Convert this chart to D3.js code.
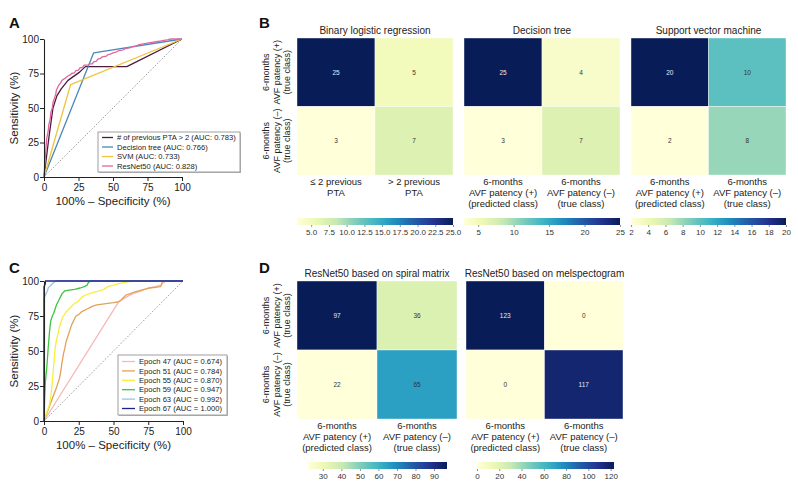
<!DOCTYPE html>
<html><head><meta charset="utf-8">
<script src="https://cdn.jsdelivr.net/npm/d3@7"></script>
<style>body{margin:0;background:#fff}svg{display:block;font-family:"Liberation Sans",Arial,sans-serif}</style>
</head><body><svg id="c" width="798" height="483"></svg>
<script>
// ---------------- DATA ----------------
const rocTicks = [0, 25, 50, 75, 100];
// Panel A ROC curves [100% - specificity, sensitivity]
const rocPrevPTA = [[0,0],[3.6,29],[6.5,50],[9.4,59],[12.6,64],[17.4,70],[25.8,76],[30,80],[60,80],[100,100]];
const rocDecisionTree = [[0,0],[36,90],[100,100]];
const rocSVM = [[0,0],[19.3,67],[100,100]];
const rocResNet50 = [[0,0],[0.5,8],[1,15],[1.5,22],[2,28],[3,33],[3.5,38],[4.5,42],[5,47],[6,50],[6.5,54],[7.5,57],[8.5,60],[9,63],[10,65],[11,67],[12,68],[13,70],[14.5,71],[16,72],[17,73],[19,74],[20,75],[22,75.5],[23,77],[25,77.5],[26,79],[28,79.5],[29,81],[32,81],[33,82],[35,82],[36,83.5],[38,84],[39,85.5],[41,86],[42,87],[45,87.5],[46,88.5],[48,89],[50,90],[52,90.5],[54,91.5],[57,92],[59,93],[62,93.5],[64,94.5],[67,95],[69,96],[72,96.5],[75,97],[78,97.5],[81,98],[84,98.5],[87,99],[90,99.5],[92,100],[100,100]];
const legendA = ["# of previous PTA > 2 (AUC: 0.783)","Decision tree (AUC: 0.766)","SVM (AUC: 0.733)","ResNet50 (AUC: 0.828)"];
const colorsA = ["#4b1b3f","#4a88b9","#f1c33e","#e2679f"];

// Panel C ROC curves per epoch
const rocEp47 = [[0,0],[53,84],[55,86],[60,89],[64,91],[70,93],[75,95],[80,96],[84,97],[86,99],[88,100],[100,100]];
const rocEp51 = [[0,0],[3,8],[6,16],[9,24],[11,30],[12,35],[13,42],[14,48],[15,52],[16,57],[17,60],[18,63],[19,66],[20,69],[21,71],[22,73],[23,75],[25,76],[27,78],[29,79],[31,80],[33,81],[35,82],[38,83],[42,83.5],[46,84],[50,84.5],[53,85],[55,86],[57,88],[59,90],[62,91],[65,92],[68,93],[72,94],[76,95],[80,95.5],[84,96],[85,99],[86,100],[100,100]];
const rocEp55 = [[0,0],[2,6],[4,12],[5,18],[6,28],[7,40],[8,52],[9,58],[10,62],[11,67],[12,70],[13,73],[14,75],[16,78],[18,80],[20,82],[22,84],[24,85],[26,87],[28,89],[30,90],[33,91],[36,92],[40,93],[43,94],[46,96],[50,97],[53,98],[58,99],[64,100],[100,100]];
const rocEp59 = [[0,0],[0.3,12],[0.6,20],[1,28],[1.5,33],[2,38],[2.5,45],[3,52],[3.5,58],[4,64],[4.5,69],[5,72],[6,75],[7,77],[8,80],[9,83],[10,85],[11,87],[12,89],[13,91],[14,92],[15,93],[18,93.5],[22,94],[26,95],[29,96],[31,97],[32,99],[34,100],[100,100]];
const rocEp63 = [[0,0],[0,87],[0.5,89],[1.5,91],[2.5,93],[3,95],[4,96],[5,97],[6,98],[7,99],[9,100],[100,100]];
const rocEp67 = [[0,0],[0,96],[1,98],[1,100],[100,100]];
const legendC = ["Epoch 47 (AUC = 0.674)","Epoch 51 (AUC = 0.784)","Epoch 55 (AUC = 0.870)","Epoch 59 (AUC = 0.947)","Epoch 63 (AUC = 0.992)","Epoch 67 (AUC = 1.000)"];
const colorsC = ["#f3b9b9","#e2a257","#f6ef3c","#3ec43e","#9ec1e6","#20208a"];

// Confusion matrices
const rowLabels = [["6-months","AVF patency (+)","(true class)"],["6-months","AVF patency (–)","(true class)"]];
const colLabelsPTA = [["≤ 2 previous","PTA"],["> 2 previous","PTA"]];
const colLabelsAVF = [["6-months","AVF patency (+)","(predicted class)"],["6-months","AVF patency (–)","(true class)"]];
const titlesB = ["Binary logistic regression","Decision tree","Support vector machine"];
const matLogistic = [[25,5],[3,7]];
const matTree = [[25,4],[3,7]];
const matSVM = [[20,10],[2,8]];
const ticksLogistic = [5,7.5,10,12.5,15,17.5,20,22.5,25];
const ticksTree = [5,10,15,20,25];
const ticksSVM = [2,4,6,8,10,12,14,16,18,20];
const titlesD = ["ResNet50 based on spiral matrix","ResNet50 based on melspectogram"];
const matSpiral = [[97,36],[22,65]];
const matMel = [[123,0],[0,117]];
const ticksSpiral = [30,40,50,60,70,80,90];
const ticksMel = [0,20,40,60,80,100,120];

// colormap stops (YlGnBu)
const ylgnbu = ["#ffffd9","#edf8b1","#c7e9b4","#7fcdbb","#41b6c4","#1d91c0","#225ea8","#253494","#081d58"];

// ---------------- DRAW ----------------
const svg = d3.select("#c");
const FONT = "Liberation Sans, Arial, sans-serif";

function panelLetter(t, x, y){
  svg.append("text").attr("x",x).attr("y",y).attr("font-size",15).attr("font-weight","bold").attr("fill","#111").text(t);
}

function roc(cfg){
  const g = svg.append("g");
  const x = d3.scaleLinear().domain([0,100]).range([cfg.x0, cfg.x1]);
  const y = d3.scaleLinear().domain([0,100]).range([cfg.y0, cfg.y1]);
  // diagonal
  g.append("line").attr("x1",x(0)).attr("y1",y(0)).attr("x2",x(100)).attr("y2",y(100))
    .attr("stroke","#888").attr("stroke-width",0.8).attr("stroke-dasharray","1.6,1.6");
  const line = d3.line().x(d=>x(d[0])).y(d=>y(d[1]));
  cfg.series.forEach((s,i)=>{
    g.append("path").attr("d",line(s)).attr("fill","none").attr("stroke",cfg.colors[i]).attr("stroke-width",1.3).attr("stroke-linejoin","round");
  });
  const ax = g.append("g").attr("transform",`translate(0,${cfg.y0})`).call(d3.axisBottom(x).tickValues(rocTicks).tickSize(4).tickSizeOuter(0));
  const ay = g.append("g").attr("transform",`translate(${cfg.x0},0)`).call(d3.axisLeft(y).tickValues(rocTicks).tickSize(4).tickSizeOuter(0));
  [ax,ay].forEach(a=>{
    a.selectAll("path").attr("stroke","#222").attr("stroke-width",1.1);
    a.selectAll("line").attr("stroke","#222").attr("stroke-width",1);
    a.selectAll("text").attr("font-size",10).attr("fill","#222").attr("font-family",FONT);
  });
  ax.selectAll("text").attr("dy","0.85em").attr("y",5);
  ay.selectAll("text").attr("x",-5);
  g.append("text").attr("x",(cfg.x0+cfg.x1)/2).attr("y",cfg.y0+28).attr("text-anchor","middle").attr("font-size",11.5).attr("fill","#222").text("100% – Specificity (%)");
  g.append("text").attr("transform",`translate(${cfg.x0-26},${(cfg.y0+cfg.y1)/2}) rotate(-90)`).attr("text-anchor","middle").attr("font-size",11.5).attr("fill","#222").text("Sensitivity (%)");
  // legend
  const L = cfg.legend;
  const lg = g.append("g");
  lg.append("rect").attr("x",L.x+1).attr("y",L.y+1).attr("width",L.w).attr("height",L.h).attr("fill","#bbb");
  lg.append("rect").attr("x",L.x).attr("y",L.y).attr("width",L.w).attr("height",L.h).attr("fill","#fff").attr("stroke","#888").attr("stroke-width",0.8);
  cfg.labels.forEach((t,i)=>{
    const yy = L.y + L.pad + i*L.dy;
    lg.append("line").attr("x1",L.x+4).attr("x2",L.x+4+L.len).attr("y1",yy).attr("y2",yy).attr("stroke",cfg.colors[i]).attr("stroke-width",1.3);
    lg.append("text").attr("x",L.x+L.len+8).attr("y",yy).attr("dy","0.35em").attr("font-size",7.6).attr("fill","#222").text(t);
  });
}

panelLetter("A",9,28);
roc({x0:44,x1:182,y0:177,y1:39,series:[rocPrevPTA,rocDecisionTree,rocSVM,rocResNet50],colors:colorsA,labels:legendA,
  legend:{x:98,y:132,w:142,h:40,pad:5.5,dy:9.5,len:11}});
panelLetter("C",9,273);
roc({x0:44,x1:183,y0:421,y1:281,series:[rocEp47,rocEp51,rocEp55,rocEp59,rocEp63,rocEp67],colors:colorsC,labels:legendC,
  legend:{x:118,y:355,w:109,h:60,pad:6.5,dy:9.4,len:13}});

function heatmap(cfg){
  const g = svg.append("g");
  const flat = cfg.mat.flat();
  const vmin = d3.min(flat), vmax = d3.max(flat);
  const color = d3.scaleLinear().domain(d3.range(ylgnbu.length).map(i=>vmin+(vmax-vmin)*i/(ylgnbu.length-1))).range(ylgnbu).interpolate(d3.interpolateRgb);
  const xb = d3.scaleBand().domain([0,1]).range([cfg.x0,cfg.x1]);
  const yb = d3.scaleBand().domain([0,1]).range([cfg.y0,cfg.y1]);
  cfg.mat.forEach((row,r)=>row.forEach((v,c)=>{
    g.append("rect").attr("x",xb(c)).attr("y",yb(r)).attr("width",xb.bandwidth()).attr("height",yb.bandwidth())
      .attr("fill",color(v)).attr("stroke","#fff").attr("stroke-width",0.4);
    const col = d3.rgb(color(v));
    const lum = 0.2126*col.r/255+0.7152*col.g/255+0.0722*col.b/255;
    g.append("text").attr("x",xb(c)+xb.bandwidth()/2).attr("y",yb(r)+yb.bandwidth()/2).attr("dy","0.35em")
      .attr("text-anchor","middle").attr("font-size",6.5).attr("fill",lum<0.45?"#e8e8f0":"#333").text(v);
  }));
  g.append("text").attr("x",(cfg.x0+cfg.x1)/2).attr("y",cfg.y0-4).attr("text-anchor","middle").attr("font-size",10).attr("fill","#222").text(cfg.title);
  if(cfg.rows){
    rowLabels.forEach((lines,r)=>{
      const cy = yb(r)+yb.bandwidth()/2;
      lines.forEach((t,k)=>{
        g.append("text").attr("transform",`translate(${cfg.x0-28+k*10.5},${cy}) rotate(-90)`).attr("text-anchor","middle").attr("font-size",9).attr("fill","#222").text(t);
      });
    });
  }
  cfg.cols.forEach((lines,c)=>{
    lines.forEach((t,k)=>{
      g.append("text").attr("x",xb(c)+xb.bandwidth()/2).attr("y",cfg.y1+9.5+k*11).attr("text-anchor","middle").attr("font-size",9.5).attr("fill","#222").text(t);
    });
  });
  // colorbar
  const cb = cfg.cb;
  const cs = d3.scaleLinear().domain([vmin,vmax]).range([cb.x0,cb.x1]);
  const gid = "grad"+cfg.id;
  const grad = svg.append("defs").append("linearGradient").attr("id",gid).attr("x1","0%").attr("x2","100%");
  d3.range(0,1.0001,0.05).forEach(t=>grad.append("stop").attr("offset",(t*100)+"%").attr("stop-color",color(vmin+(vmax-vmin)*t)));
  g.append("rect").attr("x",cb.x0).attr("y",cb.y).attr("width",cb.x1-cb.x0).attr("height",cb.h).attr("fill",`url(#${gid})`);
  const ca = g.append("g").attr("transform",`translate(0,${cb.y+cb.h})`).call(d3.axisBottom(cs).tickValues(cfg.ticks).tickFormat(cfg.fmt).tickSize(2).tickSizeOuter(0));
  ca.select(".domain").remove();
  ca.selectAll("line").attr("stroke","#444").attr("stroke-width",0.6);
  ca.selectAll("text").attr("font-size",8).attr("fill","#333").attr("y",4).attr("font-family",FONT);
}

const bX = [[297,453],[464,620],[631,786]];
[matLogistic,matTree,matSVM].forEach((m,i)=>{
  heatmap({id:"b"+i,mat:m,title:titlesB[i],x0:bX[i][0],x1:bX[i][1],y0:38,y1:175,rows:i===0,
    cols:i===0?colLabelsPTA:colLabelsAVF,
    cb:{x0:bX[i][0],x1:bX[i][1],y:218,h:7},
    ticks:[ticksLogistic,ticksTree,ticksSVM][i],fmt:i===0?d3.format(".1f"):d3.format("d")});
});
panelLetter("B",259,28);
const dX = [[297,457],[466,623]];
const dCB = [[308,447],[477,614]];
[matSpiral,matMel].forEach((m,i)=>{
  heatmap({id:"d"+i,mat:m,title:titlesD[i],x0:dX[i][0],x1:dX[i][1],y0:281,y1:419,rows:i===0,
    cols:colLabelsAVF,cb:{x0:dCB[i][0],x1:dCB[i][1],y:462,h:7},
    ticks:[ticksSpiral,ticksMel][i],fmt:d3.format("d")});
});
panelLetter("D",259,273);
</script></body></html>
